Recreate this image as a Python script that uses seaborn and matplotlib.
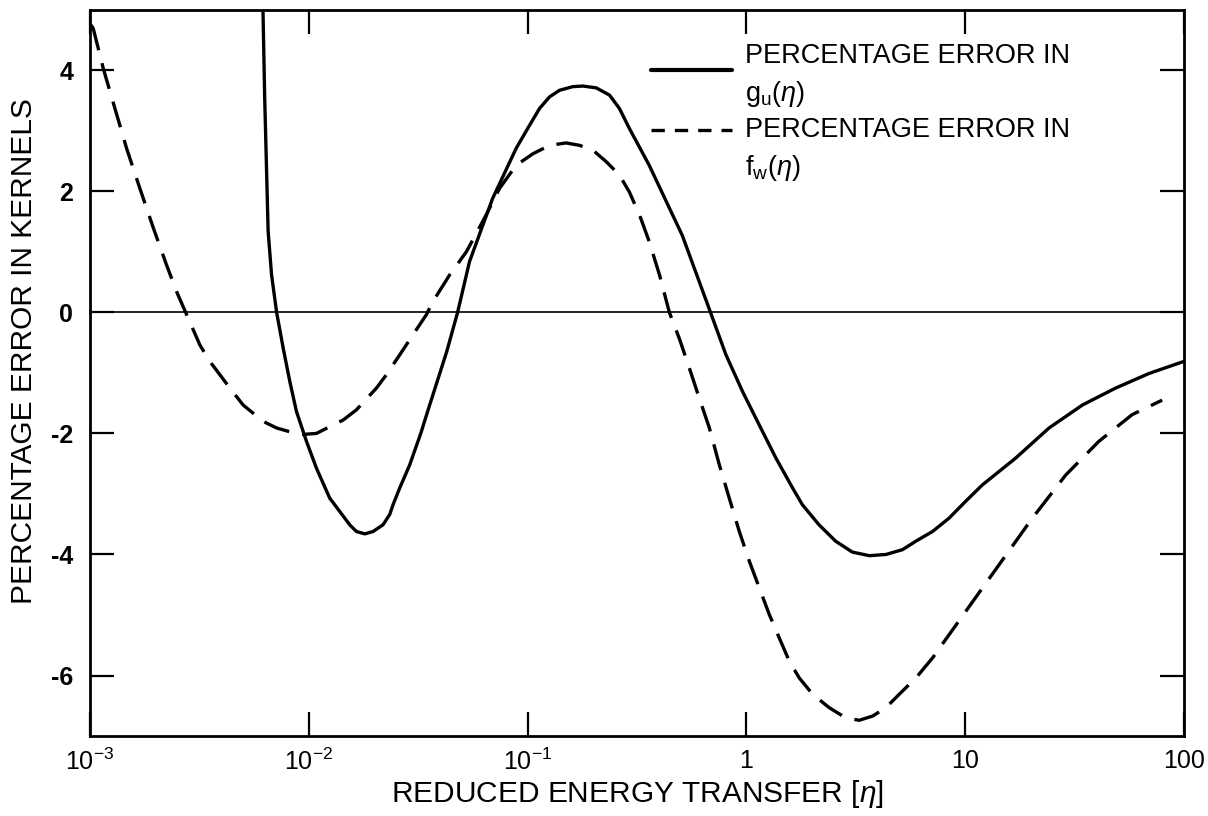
import matplotlib
matplotlib.use("Agg")
import matplotlib.pyplot as plt
from matplotlib.lines import Line2D
from matplotlib.legend_handler import HandlerLine2D
import numpy as np
import pandas as pd
import seaborn as sns

# Percentage error in g_u(eta)
eta_g = [0.00616, 0.00629, 0.00652, 0.00676, 0.00713, 0.00764, 0.00819, 0.00879,
         0.00976, 0.01083, 0.01247, 0.01386, 0.01539, 0.01651, 0.01803, 0.01968,
         0.02184, 0.02344, 0.02427, 0.02606, 0.02893, 0.0325, 0.0357, 0.0427,
         0.0479, 0.0543, 0.0692, 0.0887, 0.1021, 0.1135, 0.1260, 0.1400, 0.161,
         0.179, 0.206, 0.237, 0.263, 0.292, 0.360, 0.510, 0.686, 0.807, 0.962,
         1.146, 1.367, 1.627, 1.806, 2.15, 2.56, 3.05, 3.65, 4.35, 5.18, 5.96,
         7.10, 8.45, 10.07, 12.0, 17.0, 24.2, 34.4, 48.8, 69.2, 100.0]
err_g = [5.2, 3.53, 1.34, 0.62, 0.0, -0.59, -1.14, -1.64,
         -2.13, -2.57, -3.07, -3.29, -3.51, -3.62, -3.66, -3.62,
         -3.51, -3.34, -3.18, -2.90, -2.52, -2.0, -1.53, -0.65,
         0.0, 0.84, 1.88, 2.71, 3.09, 3.37, 3.56, 3.67, 3.73,
         3.74, 3.71, 3.59, 3.37, 3.04, 2.43, 1.27, 0.0, -0.70, -1.31,
         -1.86, -2.41, -2.90, -3.18, -3.51, -3.78, -3.96, -4.02, -4.00, -3.92, -3.78,
         -3.62, -3.40, -3.12, -2.85, -2.41, -1.91, -1.53, -1.25, -1.01, -0.81]

# Percentage error in f_w(eta)
eta_f = [0.00101, 0.001035, 0.00115, 0.00130, 0.00147, 0.00169, 0.00195, 0.00224,
         0.00249, 0.00318, 0.00353, 0.00436, 0.00501, 0.00618, 0.00713, 0.00910,
         0.01084, 0.01291, 0.01434, 0.01652, 0.02039, 0.02264, 0.02606, 0.02994,
         0.03446, 0.03695, 0.04406, 0.05250, 0.0647, 0.0745, 0.0887, 0.1057, 0.126,
         0.150, 0.173, 0.199, 0.229, 0.263, 0.292, 0.325, 0.360, 0.401, 0.445,
         0.494, 0.549, 0.610, 0.678, 0.753, 0.836, 0.929, 1.032, 1.146, 1.273,
         1.415, 1.571, 1.746, 2.01, 2.39, 2.85, 3.28, 3.78, 4.35, 5.00, 5.96,
         7.10, 10.07, 14.3, 20.3, 28.8, 40.9, 58.0, 79.6]
err_f = [4.75, 4.69, 4.03, 3.37, 2.71, 2.05, 1.39, 0.78,
         0.34, -0.54, -0.81, -1.25, -1.53, -1.80, -1.91, -2.02,
         -2.00, -1.86, -1.78, -1.61, -1.25, -1.03, -0.70, -0.37,
         -0.04, 0.18, 0.62, 1.00, 1.61, 2.05, 2.43, 2.62, 2.76,
         2.80, 2.76, 2.68, 2.49, 2.27, 1.99, 1.61, 1.17, 0.62, 0.0,
         -0.43, -0.92, -1.42, -1.91, -2.52, -3.07, -3.62, -4.11, -4.55, -4.99,
         -5.38, -5.76, -6.04, -6.31, -6.53, -6.70, -6.74, -6.67, -6.53, -6.31, -6.04,
         -5.71, -4.94, -4.17, -3.40, -2.69, -2.13, -1.69, -1.45]

x_ticks = [1e-3, 1e-2, 1e-1, 1, 10, 100]
x_tick_labels = [r"10$^{\mathregular{-3}}$", r"10$^{\mathregular{-2}}$",
                 r"10$^{\mathregular{-1}}$", "1", "10", "100"]
y_ticks = [-6, -4, -2, 0, 2, 4]

label_g = "PERCENTAGE ERROR IN\n" + r"g$_{\mathregular{u}}$($\eta$)"
label_f = "PERCENTAGE ERROR IN\n" + r"f$_{\mathregular{w}}$($\eta$)"


class RaisedLineHandler(HandlerLine2D):
    """Legend line handler that lifts the sample line towards the label's first row."""

    def __init__(self, lift_pt, **kw):
        super().__init__(**kw)
        self.lift_pt = lift_pt

    def create_artists(self, legend, orig_handle, xdescent, ydescent, width,
                       height, fontsize, trans):
        artists = super().create_artists(legend, orig_handle, xdescent, ydescent,
                                         width, height, fontsize, trans)
        for a in artists:
            a.set_ydata(np.asarray(a.get_ydata(), dtype=float) + self.lift_pt)
        return artists


sns.set_style("ticks")
plt.rcParams["font.family"] = ["Liberation Sans", "DejaVu Sans"]
plt.rcParams["mathtext.fontset"] = "custom"
plt.rcParams["mathtext.rm"] = "Liberation Sans"
plt.rcParams["mathtext.it"] = "Liberation Sans:italic"
for key in ("text.color", "axes.labelcolor", "xtick.color", "ytick.color",
            "axes.edgecolor"):
    plt.rcParams[key] = "black"

df_g = pd.DataFrame({"eta": eta_g, "err": err_g})
df_f = pd.DataFrame({"eta": eta_f, "err": err_f})

fig, ax = plt.subplots(figsize=(12.08, 8.16), dpi=100)
fig.subplots_adjust(left=0.0745, right=0.980, top=0.988, bottom=0.098)

ax.axhline(0, color="black", lw=1.2, zorder=1)
sns.lineplot(data=df_g, x="eta", y="err", ax=ax, color="black", lw=2.4,
             sort=False, estimator=None, zorder=3)
sns.lineplot(data=df_f, x="eta", y="err", ax=ax, color="black", lw=2.4,
             sort=False, estimator=None, zorder=3)
ax.lines[-1].set_dashes([8, 4])
for ln in ax.lines[1:]:
    ln.set_solid_joinstyle("round")
    ln.set_dash_joinstyle("round")

ax.set_xscale("log")
ax.set_xlim(1e-3, 100)
ax.set_ylim(-7, 5)
ax.set_xticks(x_ticks)
ax.set_xticklabels(x_tick_labels)
ax.xaxis.set_minor_locator(matplotlib.ticker.NullLocator())
ax.set_yticks(y_ticks)
ax.set_yticklabels([str(v) for v in y_ticks])

ax.tick_params(axis="both", which="major", direction="in", length=17, width=1.6,
               top=True, right=True, color="black")
ax.tick_params(axis="y", pad=12, labelsize=18)
ax.tick_params(axis="x", pad=9, labelsize=18)
for t in ax.get_yticklabels():
    t.set_fontweight("bold")
for s in ax.spines.values():
    s.set_linewidth(2.0)
    s.set_color("black")

ax.set_xlabel(r"REDUCED ENERGY TRANSFER [$\eta$]", fontsize=21.5, labelpad=2)
ax.set_ylabel("PERCENTAGE ERROR IN KERNELS", fontsize=21.5)
ax.yaxis.set_label_coords(-0.0475, 0.53)

h_solid = Line2D([], [], color="black", lw=3.0)
h_dash = Line2D([], [], color="black", lw=2.4, dashes=[4, 3])
leg = ax.legend([h_solid, h_dash], [label_g, label_f], loc="upper left",
                bbox_to_anchor=(0.513, 0.954), frameon=False, fontsize=19.5,
                handlelength=3.0, handletextpad=0.45, labelspacing=0.3,
                borderpad=0, borderaxespad=0,
                handler_map={h_solid: RaisedLineHandler(5.0),
                             h_dash: RaisedLineHandler(15.0)})
for t in leg.get_texts():
    t.set_linespacing(1.45)

fig.savefig("out.png", dpi=100)
